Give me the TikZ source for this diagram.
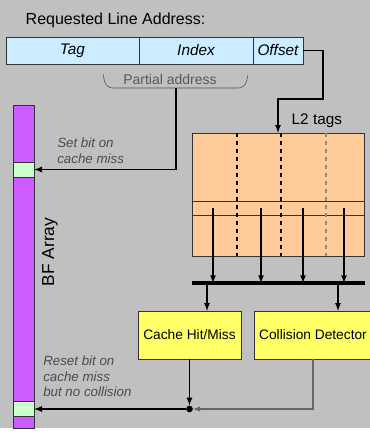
\documentclass[tikz,border=0pt]{standalone}
\usepackage{fontspec}
\setmainfont{Liberation Sans}
\usepackage{xcolor}
\usetikzlibrary{arrows, positioning}

\definecolor{bggray}{HTML}{C0C0C0}
\definecolor{addrblue}{HTML}{CCECFF}
\definecolor{tagpeach}{HTML}{FFCC99}
\definecolor{unityellow}{HTML}{FFFF66}
\definecolor{bfpurple}{HTML}{CC5CFF}
\definecolor{cellgreen}{HTML}{CCFFCC}

\begin{document}
\begin{tikzpicture}[
            x=0.75pt, y=-0.75pt, >=latex,
            field/.style={rectangle, draw=black!80, fill=addrblue, minimum height=20.25pt, inner sep=0pt, outer sep=0pt, font=\fontsize{11.5}{13}\selectfont\itshape},
            unit/.style={rectangle, draw=black!80, fill=unityellow, minimum height=36pt, inner sep=0pt, font=\fontsize{10.3}{12}\selectfont},
            note/.style={align=left, text=black!70, anchor=north west, inner sep=0pt, font=\fontsize{10}{11.6}\selectfont\itshape},
            cell/.style={rectangle, draw=black!80, fill=cellgreen, minimum width=15.75pt, minimum height=11.25pt, inner sep=0pt},
            wire/.style={line width=1pt}
        ]
        \clip (0,0) rectangle (370,433);
        \fill[bggray] (0,0) rectangle (370,428);

        % Address fields
        \node[anchor=west, font=\fontsize{12}{14}\selectfont] (title) at (21,20) {Requested Line Address:};
        \node[field, minimum width=99.75pt] (addr_tag) at (72.5,50.5) {Tag};
        \node[field, minimum width=85.5pt, right=0pt of addr_tag] (addr_index) {Index};
        \node[field, minimum width=37.5pt, right=0pt of addr_index] (addr_offset) {Offset};

        \draw[black!70, rounded corners=5pt] (103,74) -- (106,88) -- (245,88) -- (248,75);
        \node[text=black!65, font=\fontsize{10.5}{12}\selectfont] (partial) at (170,79) {Partial address};
        \coordinate (pa_mid) at (176,88);

        % L2 tags
        \node[draw=black!80, fill=tagpeach, minimum width=129pt, minimum height=92.25pt, inner sep=0pt] (l2_tags) at (278,194.5) {};
        \draw[black!80] (l2_tags.west |- 0,201) -- (l2_tags.east |- 0,201);
        \draw[black!80] (l2_tags.west |- 0,215) -- (l2_tags.east |- 0,215);
        \foreach \x/\c in {237/black, 281/black, 326/black!45}
            \draw[dashed, \c, line width=0.9pt] (l2_tags.north -| \x,0) -- (l2_tags.south -| \x,0);
        \node[anchor=west, font=\fontsize{11.5}{13}\selectfont] (l2_label) at (287,121) {L2 tags};

        \coordinate (bend) at (323,99);
        \draw[wire, ->] (addr_offset.east) -| (bend) -| (l2_tags.north -| 278,0);

        % Bus
        \coordinate (bus_w) at (192,283);
        \coordinate (bus_e) at (365,283);
        \foreach \x in {213, 261, 303, 344}
            \draw[wire, ->] (\x,208) -- (bus_w -| \x,0);
        \draw[line width=2.4pt] (bus_w) -- (bus_e);

        % Hit / collision units
        \node[unit, minimum width=77.25pt] (cache_hit) at (189.5,335) {Cache Hit/Miss};
        \node[unit, minimum width=88.5pt] (coll_det) at (313,335) {Collision Detector};
        \draw[wire, ->] (bus_w -| 207,0) -- (cache_hit.north -| 207,0);
        \draw[wire, ->] (bus_w -| 338,0) -- (coll_det.north -| 338,0);

        % BF array
        \node[draw=black!80, fill=bfpurple, minimum width=15.75pt, minimum height=242.25pt, inner sep=0pt] (bf_array) at (23.5,266.5) {};
        \node[cell] (bf_cell1) at (23.5,169.5) {};
        \node[cell] (bf_cell2) at (23.5,408.5) {};
        \node[rotate=90, font=\fontsize{13}{15}\selectfont] (bf_label) at (50,252) {BF Array};

        \draw[wire, ->] (pa_mid) |- (bf_cell1.east);
        \node[note] (set_note) at (57,138) {Set bit on\\cache miss};

        \node[circle, fill, inner sep=0pt, minimum size=5pt] (join) at (189.5,409) {};
        \draw[wire, ->] (cache_hit.south) -- (join);
        \draw[black!60, line width=0.8pt, ->] (coll_det.south) |- (join);
        \draw[wire, ->] (join) -- (join -| bf_cell2.east);
        \node[note] (reset_note) at (43,356) {Reset bit on\\cache miss\\but no collision};
    \end{tikzpicture}
\end{document}
